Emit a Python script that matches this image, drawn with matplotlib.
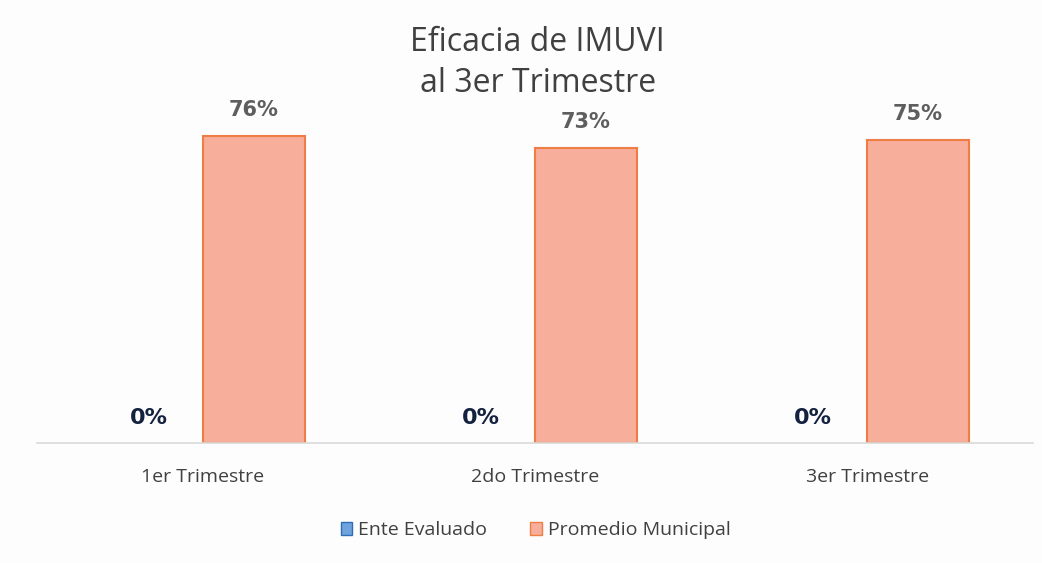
import numpy as np
import matplotlib
matplotlib.use("Agg")
import matplotlib.pyplot as plt
from matplotlib.patches import Patch

plt.rcParams['font.family'] = ['Open Sans', 'DejaVu Sans']

categories = ['1er Trimestre', '2do Trimestre', '3er Trimestre']
ente_evaluado = [0.0, 0.0, 0.0]
promedio_municipal = [0.76, 0.73, 0.75]
series_names = ['Ente Evaluado', 'Promedio Municipal']

blue_fill, blue_edge = '#6FA3DE', '#2E6DB4'
orange_fill, orange_edge = '#F7AE9B', '#EE7E45'

fig = plt.figure(figsize=(10.42, 5.63), dpi=100)
fig.patch.set_facecolor('#FDFDFD')
ax = fig.add_axes([0.0355, 0.2131, 0.956, 0.618])
ax.set_facecolor('none')

x = np.arange(len(categories))
w = 0.307
b1 = ax.bar(x - w / 2, ente_evaluado, w, color=blue_fill, linewidth=0)
b2 = ax.bar(x + w / 2, promedio_municipal, w, color=orange_fill, edgecolor=orange_edge, linewidth=1.5)

# value labels
for rect, v in zip(b1, ente_evaluado):
    ax.annotate(f'{v:.0%}', (rect.get_x() + rect.get_width() / 2, v),
                xytext=(-2, 18), textcoords='offset points', ha='center', va='center',
                fontsize=16, fontweight='bold', color='#14213F', family='DejaVu Sans')
for rect, v in zip(b2, promedio_municipal):
    ax.annotate(f'{v:.0%}', (rect.get_x() + rect.get_width() / 2, v),
                xytext=(0, 19), textcoords='offset points', ha='center', va='center',
                fontsize=15, fontweight='bold', color='#5E5E5E', family='DejaVu Sans')

ax.set_xlim(-0.5, len(categories) - 0.5)
ax.set_ylim(0, 0.861)
ax.set_yticks([])
ax.set_xticks(x)
ax.set_xticklabels(categories, fontsize=14, color='#404040')
ax.tick_params(axis='x', length=0, pad=18)
for s in ['top', 'right', 'left']:
    ax.spines[s].set_visible(False)
ax.spines['bottom'].set_color('#D9D9D9')
ax.spines['bottom'].set_linewidth(1.2)

fig.text(0.516, 0.888, 'Eficacia de IMUVI\nal 3er Trimestre', ha='center', va='center',
         fontsize=23, fontweight='medium', color='#404040', linespacing=1.3)

handles = [Patch(facecolor=blue_fill, edgecolor=blue_edge),
           Patch(facecolor=orange_fill, edgecolor=orange_edge)]
fig.legend(handles, series_names, loc='center', bbox_to_anchor=(0.514, 0.058), ncol=2,
           frameon=False, fontsize=14, handlelength=0.6, handleheight=0.6,
           handletextpad=0.3, columnspacing=2.2, labelcolor='#404040')

fig.savefig('out.png', dpi=100, facecolor=fig.get_facecolor())
